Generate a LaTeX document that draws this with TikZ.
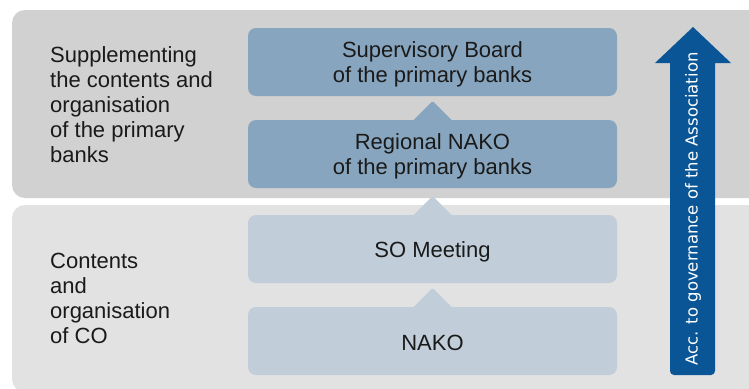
\documentclass[tikz,border=0pt]{standalone}
\usepackage{fontspec}
\usetikzlibrary{calc}
\setmainfont{Liberation Sans}
\newfontfamily\arrowfont{DejaVu Sans}
\definecolor{toppanel}{HTML}{D1D1D1}
\definecolor{botpanel}{HTML}{E2E2E2}
\definecolor{darkbox}{HTML}{87A5BE}
\definecolor{lightbox}{HTML}{C1CED9}
\definecolor{arrowblue}{HTML}{0A5596}
\definecolor{txtcol}{HTML}{1A1A1A}
\begin{document}
\begin{tikzpicture}[x=1pt,y=-1pt,
  lbl/.style={inner sep=0pt, anchor=base west, text=txtcol, font=\fontsize{22}{25}\selectfont},
  ctxt/.style={inner sep=0pt, anchor=base, text=txtcol, font=\fontsize{22}{25}\selectfont},
  boxdark/.style={fill=darkbox, rounded corners=8pt, minimum width=369pt, minimum height=68pt, inner sep=0pt},
  boxlight/.style={fill=lightbox, rounded corners=8pt, minimum width=369pt, minimum height=68pt, inner sep=0pt},
  tri/.style={rounded corners=1.5pt}
]
\useasboundingbox (0,0) rectangle (749,388);
\fill[white] (0,0) rectangle (749,388);
\begin{scope}
\clip (0,0) rectangle (749,388);
% panels
\fill[toppanel, rounded corners=13pt] (12,10) rectangle (780,198);
\fill[botpanel, rounded corners=13pt] (12,205) rectangle (780,392);

% triangles
\fill[darkbox, tri] (412.5,121) -- (432.5,101) -- (452.5,121) -- cycle;
\fill[lightbox, tri] (412.5,216) -- (432.5,196) -- (452.5,216) -- cycle;
\fill[lightbox, tri] (412.5,308) -- (432.5,288) -- (452.5,308) -- cycle;

% boxes
\node[boxdark] (sb) at (432.5,62) {};
\node[boxdark] (rn) at (432.5,154) {};
\node[boxlight] (so) at (432.5,249) {};
\node[boxlight] (nk) at (432.5,341) {};

\node[ctxt] (sb1) at ($(sb.center)+(0,-5)$) {Supervisory Board};
\node[ctxt] (sb2) at ($(sb.center)+(0,20)$) {of the primary banks};
\node[ctxt] (rn1) at ($(rn.center)+(0,-5)$) {Regional NAKO};
\node[ctxt] (rn2) at ($(rn.center)+(0,20)$) {of the primary banks};
\node[ctxt] (so1) at ($(so.center)+(0,8)$) {SO Meeting};
\node[ctxt] (nk1) at ($(nk.center)+(0,9)$) {NAKO};

% left labels
\node[lbl] (a1) at (50,62) {Supplementing};
\node[lbl] (a2) at (50,87) {the contents and};
\node[lbl] (a3) at (50,112) {organisation};
\node[lbl] (a4) at (50,137) {of the primary};
\node[lbl] (a5) at (50,162) {banks};
\node[lbl] (b1) at (50,268) {Contents};
\node[lbl] (b2) at (50,293) {and};
\node[lbl] (b3) at (50,318) {organisation};
\node[lbl] (b4) at (50,343) {of CO};

% arrow
\fill[arrowblue] (670,63) -- (655,63) -- (693,27) -- (731,63) -- (715,63)
  [rounded corners=4pt] -- (715,375) -- (670,375) [sharp corners] -- cycle;
\node[inner sep=0pt, rotate=90, text=white, font=\arrowfont\fontsize{16.5}{20}\selectfont] (ar) at (693,209) {Acc. to governance of the Association};
\end{scope}
\end{tikzpicture}
\end{document}
